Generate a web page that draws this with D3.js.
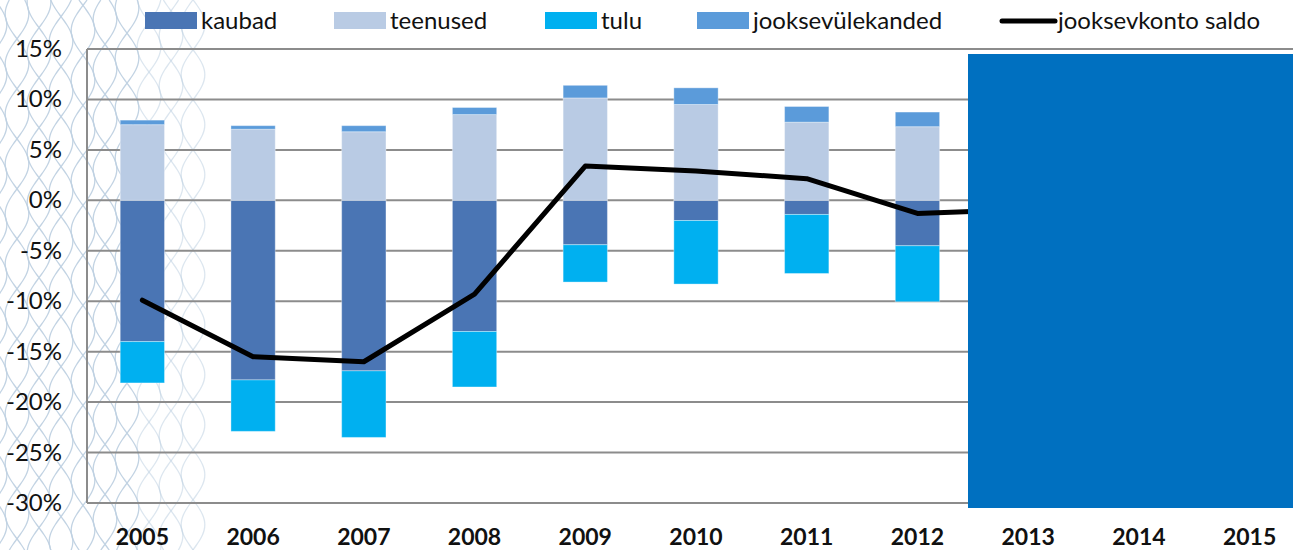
<!DOCTYPE html>
<html>
<head>
<meta charset="utf-8">
<script src="https://cdn.jsdelivr.net/npm/d3@7.9.0/dist/d3.min.js"></script>
<style>
  body { margin: 0; background: #fff; }
  svg { display: block; font-family: Lato, "Open Sans", sans-serif; }
</style>
</head>
<body>
<svg></svg>
<script>
const years = ["2005","2006","2007","2008","2009","2010","2011","2012","2013","2014","2015"];
const kaubad = [-14.0, -17.8, -16.9, -13.0, -4.4, -2.0, -1.4, -4.5, null, null, null];
const teenused = [7.5, 7.05, 6.8, 8.5, 10.15, 9.5, 7.75, 7.3, null, null, null];
const tulu = [-4.1, -5.1, -6.6, -5.5, -3.7, -6.3, -5.85, -5.55, null, null, null];
const ylekanded = [0.45, 0.35, 0.6, 0.7, 1.25, 1.65, 1.55, 1.45, null, null, null];
const saldo = [-9.9, -15.5, -16.0, -9.3, 3.4, 2.9, 2.15, -1.3, -0.9, null, null];
const yTicks = [15, 10, 5, 0, -5, -10, -15, -20, -25, -30];

const width = 1293, height = 550;
const svg = d3.select("svg").attr("width", width).attr("height", height);

// decorative wave pattern on the left
const deco = svg.append("g").attr("stroke", "#bfd1e2").attr("fill", "none").attr("stroke-width", 1.3);
const wave = d3.line().curve(d3.curveBasis);
for (let k = 0; k < 10; k++) {
  const x0 = -5 + k * 22;
  [0, Math.PI].forEach(ph => {
    const pts = d3.range(0, 560, 5).map(yy => [x0 + 12 * Math.sin(yy / 50 * Math.PI + ph + k * 0.7), yy]);
    deco.append("path").attr("d", wave(pts)).attr("opacity", k > 6 ? 0.55 : 0.95);
  });
}

const plot = { left: 87, right: 1305, top: 49, bottom: 503 };

const x = d3.scaleBand().domain(years).range([plot.left, plot.right]).paddingInner(0.6).paddingOuter(0.3);
const y = d3.scaleLinear().domain([-30, 15]).range([plot.bottom, plot.top]);

// gridlines
svg.append("g")
  .selectAll("line")
  .data(yTicks)
  .join("line")
  .attr("x1", plot.left).attr("x2", width)
  .attr("y1", d => y(d)).attr("y2", d => y(d))
  .attr("stroke", "#8c8c8c").attr("stroke-width", 2);

svg.append("line")
  .attr("x1", plot.left).attr("x2", plot.left)
  .attr("y1", plot.top).attr("y2", plot.bottom)
  .attr("stroke", "#8c8c8c").attr("stroke-width", 2);

// y tick labels
svg.append("g")
  .selectAll("text")
  .data(yTicks)
  .join("text")
  .attr("x", 62).attr("y", d => y(d) + 8)
  .attr("text-anchor", "end")
  .attr("font-size", 24)
  .attr("fill", "#111")
  .text(d => d + "%");

// x labels
svg.append("g")
  .selectAll("text")
  .data(years)
  .join("text")
  .attr("x", d => x(d) + x.bandwidth() / 2)
  .attr("y", 545)
  .attr("text-anchor", "middle")
  .attr("font-size", 23)
  .attr("font-weight", "bold")
  .attr("fill", "#111")
  .text(d => d);

// stacked bars: positives and negatives
const series = [
  { name: "kaubad", values: kaubad, color: "#4a75b4" },
  { name: "teenused", values: teenused, color: "#b9cbe4" },
  { name: "tulu", values: tulu, color: "#00b0f0" },
  { name: "jooksevülekanded", values: ylekanded, color: "#5b9bda" }
];

const rects = [];
years.forEach((yr, i) => {
  let pos = 0, neg = 0;
  series.forEach(s => {
    const v = s.values[i];
    if (v == null) return;
    let y0, y1;
    if (v >= 0) { y0 = pos; y1 = pos + v; pos = y1; }
    else { y0 = neg; y1 = neg + v; neg = y1; }
    rects.push({ year: yr, y0, y1, color: s.color });
  });
});

svg.append("g")
  .selectAll("rect")
  .data(rects)
  .join("rect")
  .attr("x", d => x(d.year))
  .attr("width", x.bandwidth())
  .attr("y", d => y(Math.max(d.y0, d.y1)))
  .attr("height", d => Math.abs(y(d.y0) - y(d.y1)))
  .attr("fill", d => d.color)
  .attr("stroke", "#ffffff").attr("stroke-opacity", 0.35).attr("stroke-width", 1);

// saldo line
const line = d3.line()
  .defined(d => d.v != null)
  .x(d => x(d.year) + x.bandwidth() / 2)
  .y(d => y(d.v));

svg.append("path")
  .datum(years.map((yr, i) => ({ year: yr, v: saldo[i] })))
  .attr("fill", "none")
  .attr("stroke", "#000")
  .attr("stroke-width", 5)
  .attr("stroke-linejoin", "round")
  .attr("stroke-linecap", "round")
  .attr("d", line);

// blue overlay box
svg.append("rect")
  .attr("x", 968).attr("y", 54)
  .attr("width", width - 968).attr("height", 508 - 54)
  .attr("fill", "#0070c0");

// legend
const legendItems = [
  { name: "kaubad", color: "#4a75b4", x: 145 },
  { name: "teenused", color: "#b9cbe4", x: 334 },
  { name: "tulu", color: "#00b0f0", x: 545 },
  { name: "jooksevülekanded", color: "#5b9bda", x: 697 },
  { name: "jooksevkonto saldo", color: "#000", x: 1000, line: true }
];
const lg = svg.append("g").selectAll("g").data(legendItems).join("g")
  .attr("transform", d => `translate(${d.x},0)`);
lg.filter(d => !d.line).append("rect")
  .attr("x", 0).attr("y", 12).attr("width", 52).attr("height", 17)
  .attr("fill", d => d.color);
lg.filter(d => d.line).append("line")
  .attr("x1", 2).attr("x2", 55).attr("y1", 21).attr("y2", 21)
  .attr("stroke", "#000").attr("stroke-width", 5).attr("stroke-linecap", "round");
lg.append("text")
  .attr("x", d => d.line ? 58 : 56).attr("y", 29)
  .attr("font-size", 24)
  .attr("fill", "#111")
  .text(d => d.name);
</script>
</body>
</html>
